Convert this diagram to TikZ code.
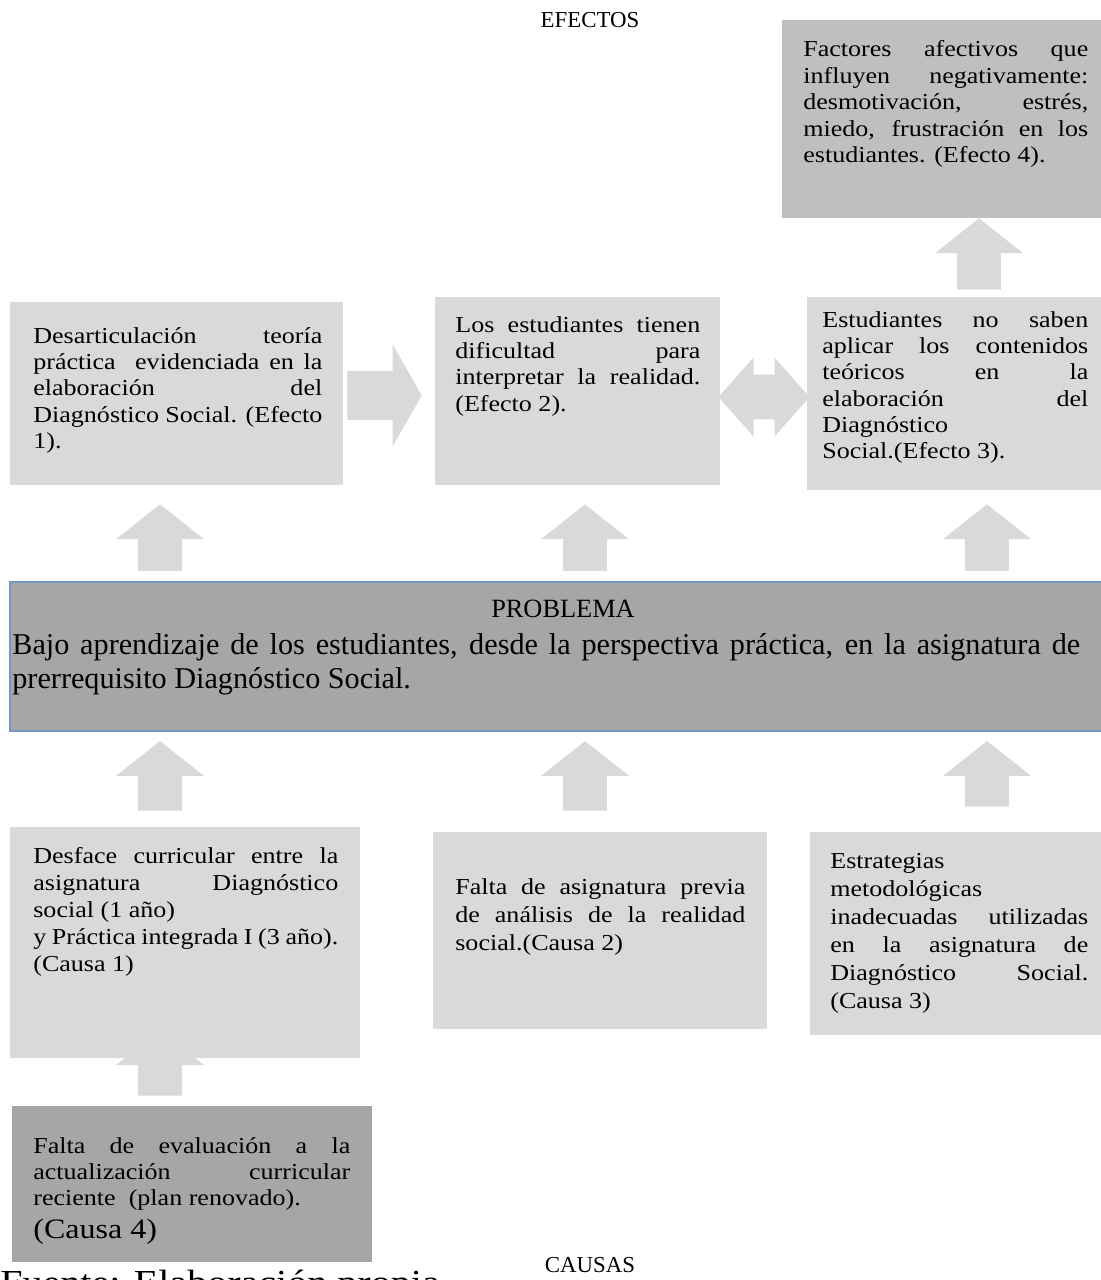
\documentclass[tikz,border=0pt]{standalone}
\usepackage{fontspec}
\setmainfont[FakeStretch=1.14]{Liberation Serif}
\newfontfamily\plainfont{Liberation Serif}
\usepackage{xcolor}
\definecolor{gray-light}{RGB}{217,217,217}
\definecolor{gray-mid}{RGB}{191,191,191}
\definecolor{gray-dark}{RGB}{166,166,166}
\definecolor{blue-edge}{RGB}{118,150,196}
\usetikzlibrary{positioning,fit,calc}

\tikzset{
    box/.style={fill=gray-light, inner sep=0pt},
    boxtext/.style={anchor=base west, inner sep=0pt, align=justify, font=\fontsize{13}{15}\selectfont},
    title/.style={anchor=base, inner sep=0pt, font=\plainfont\fontsize{13}{15}\selectfont},
    uparrow/.style={to path={let \p1=(\tikztostart), \p2=(\tikztotarget) in
        (\x1-12.5pt,\y1) -- (\x1-12.5pt,\y2-19.8pt) -- (\x1-25pt,\y2-19.8pt) -- (\x1,\y2)
        -- (\x1+25pt,\y2-19.8pt) -- (\x1+12.5pt,\y2-19.8pt) -- (\x1+12.5pt,\y1) -- cycle}},
    rightarrow/.style={to path={let \p1=(\tikztostart), \p2=(\tikztotarget) in
        (\x1,\y1+14pt) -- (\x2-16.5pt,\y1+14pt) -- (\x2-16.5pt,\y1+29pt) -- (\x2,\y1)
        -- (\x2-16.5pt,\y1-29pt) -- (\x2-16.5pt,\y1-14pt) -- (\x1,\y1-14pt) -- cycle}},
    botharrow/.style={to path={let \p1=(\tikztostart), \p2=(\tikztotarget) in
        (\x1,\y1) -- (\x1+20pt,\y1+22.4pt) -- (\x1+20pt,\y1+12.75pt) -- (\x2-20pt,\y1+12.75pt)
        -- (\x2-20pt,\y1+22.4pt) -- (\x2,\y1) -- (\x2-20pt,\y1-22.4pt) -- (\x2-20pt,\y1-12.75pt)
        -- (\x1+20pt,\y1-12.75pt) -- (\x1+20pt,\y1-22.4pt) -- cycle}}
}

\begin{document}
\begin{tikzpicture}[x=0.02cm, y=-0.02cm]

\useasboundingbox (0,0) rectangle (1100,1280);

% Titles
\node[title] (efectos) at (590,28) {EFECTOS};
\node[title] (causas) at (590,1272) {CAUSAS};

% Effect boxes
\node[box, fill=gray-mid, fit={(782,20) (1104,218)}] (efecto4) {};
\node[box, fit={(10,302) (343,485)}] (efecto1) {};
\node[box, fit={(435,297) (720,485)}] (efecto2) {};
\node[box, fit={(807,297) (1104,490)}] (efecto3) {};

% Problem box
\node[
    box,
    fill=gray-dark,
    draw=blue-edge,
    line width=1.2pt,
    fit={(10,582) (1106,731)}
] (problema) {};

% Cause boxes
\node[box, fit={(10,827) (360,1058)}] (causa1) {};
\node[box, fit={(433,832) (767,1029)}] (causa2) {};
\node[box, fit={(810,832) (1104,1035)}] (causa3) {};
\node[box, fill=gray-dark, fit={(12,1106) (372,1262)}] (causa4) {};

% Box texts
\node[boxtext, text width=5.7cm] (efecto4-txt) at (803,57) {Factores afectivos que\linebreak influyen negativamente:\linebreak desmotivación, estrés,\linebreak miedo, frustración en los\linebreak estudiantes. (Efecto 4).};
\node[boxtext, text width=5.78cm] (efecto1-txt) at (33,343) {Desarticulación teoría\linebreak práctica\ \ evidenciada en la\linebreak elaboración del\linebreak Diagnóstico Social. (Efecto\linebreak 1).};
\node[boxtext, text width=4.9cm] (efecto2-txt) at (455,332) {Los estudiantes tienen\linebreak dificultad para\linebreak interpretar la realidad.\linebreak (Efecto 2).};
\node[boxtext, text width=5.32cm] (efecto3-txt) at (822,327) {Estudiantes no saben\linebreak aplicar los contenidos\linebreak teóricos en la\linebreak elaboración del\linebreak Diagnóstico\linebreak Social.(Efecto 3).};

\node[anchor=base, inner sep=0pt, font=\plainfont\fontsize{15}{19.8}\selectfont] (problema-tit) at (563,617) {PROBLEMA};
\node[boxtext, text width=21.36cm, font=\plainfont\fontsize{17.2}{19.8}\selectfont] (problema-txt) at (12,654) {Bajo aprendizaje de los estudiantes, desde la perspectiva práctica, en la asignatura de\linebreak prerrequisito Diagnóstico Social.};

\node[boxtext, text width=6.1cm, font=\fontsize{13}{15.5}\selectfont] (causa1-txt) at (33,863) {Desface curricular entre la\linebreak asignatura Diagnóstico\linebreak social (1 año)\\ y Práctica integrada I (3 año).\\ (Causa 1)};
\node[boxtext, text width=5.8cm, font=\fontsize{13}{16}\selectfont] (causa2-txt) at (455,894) {Falta de asignatura previa\linebreak de análisis de la realidad\linebreak social.(Causa 2)};
\node[boxtext, text width=5.16cm, font=\fontsize{13}{16}\selectfont] (causa3-txt) at (830,868) {Estrategias\linebreak metodológicas\linebreak inadecuadas utilizadas\linebreak en la asignatura de\linebreak Diagnóstico Social.\linebreak (Causa 3)};
\node[boxtext, text width=6.34cm] (causa4-txt) at (33,1153) {Falta de evaluación a la\linebreak actualización curricular\linebreak reciente\ \ (plan renovado).\\[3.7pt] {\fontsize{16}{19}\selectfont (Causa 4)}};

% Source line, cut by the page edge
\node[anchor=base west, inner sep=0pt, font=\fontsize{20}{24}\selectfont] (fuente) at (0,1294) {Fuente: Elaboración propia};

% Arrow columns
\coordinate (colA) at (160,0);
\coordinate (colB) at (585,0);
\coordinate (colC) at (987,0);
\coordinate (colD) at (979,0);

% Arrows from problem to effects
\fill[gray-light] ($(colA |- problema.north)+(0,-10)$) to[uparrow] ($(colA |- efecto1.south)+(0,19)$);
\fill[gray-light] ($(colB |- problema.north)+(0,-10)$) to[uparrow] ($(colB |- efecto2.south)+(0,19)$);
\fill[gray-light] ($(colC |- problema.north)+(0,-10)$) to[uparrow] ($(colC |- efecto3.south)+(0,14)$);

% Arrows from causes to problem
\fill[gray-light] ($(colA |- causa1.north)+(0,-16)$) to[uparrow] ($(colA |- problema.south)+(0,9)$);
\fill[gray-light] ($(colB |- causa2.north)+(0,-21)$) to[uparrow] ($(colB |- problema.south)+(0,9)$);
\fill[gray-light] ($(colC |- causa3.north)+(0,-25)$) to[uparrow] ($(colC |- problema.south)+(0,9)$);

% Cause 4 to cause 1
\fill[gray-light] ($(colA |- causa4.north)+(0,-10)$) to[uparrow] ($(colA |- causa1.south)+(0,-28)$);

% Effect 3 to effect 4
\fill[gray-light] ($(colD |- efecto3.north)+(0,-7)$) to[uparrow] (colD |- efecto4.south);

% Side arrows between effects
\fill[gray-light] ($(efecto1.east)+(4,2)$) to[rightarrow] ($(efecto1.east -| efecto2.west)+(-13,2)$);
\fill[gray-light] ($(efecto2.east)+(-2,6)$) to[botharrow] ($(efecto2.east -| efecto3.west)+(3,6)$);

\end{tikzpicture}
\end{document}
